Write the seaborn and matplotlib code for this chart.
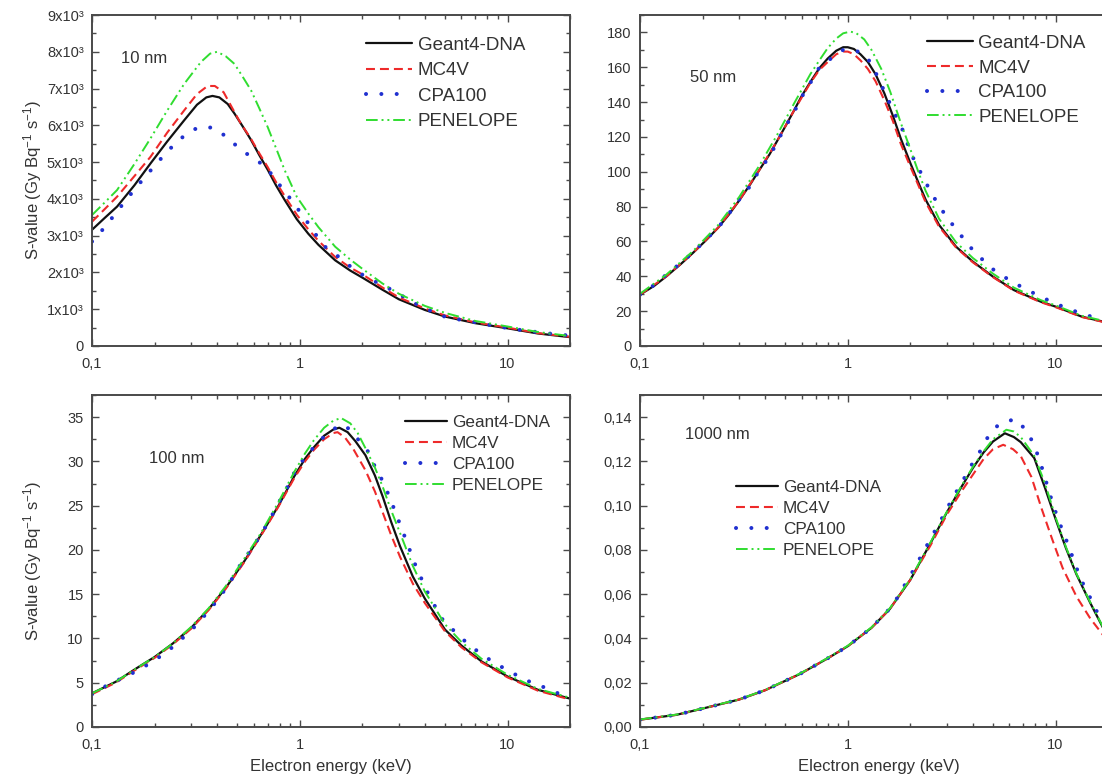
import matplotlib
matplotlib.use("Agg")
import pandas as pd
import matplotlib.pyplot as plt
import seaborn as sns
from matplotlib.ticker import FuncFormatter, MultipleLocator, LogLocator, NullFormatter

# ---------------- 10 nm ----------------
e10_g4 = [0.1, 0.115, 0.132, 0.16, 0.191, 0.23, 0.278, 0.32, 0.355, 0.38, 0.41, 0.45, 0.485, 0.53, 0.583,
          0.64, 0.703, 0.77, 0.846, 0.967, 1.1, 1.23, 1.48, 1.75, 2.0, 2.5, 3.0, 4.0, 5.0, 7.0, 10, 14, 20]
s10_g4 = [3160, 3480, 3790, 4370, 4960, 5560, 6140, 6560, 6760, 6800, 6760, 6580, 6320, 5980, 5600,
          5180, 4780, 4360, 3970, 3450, 3050, 2750, 2330, 2050, 1860, 1530, 1270, 980, 800, 620, 480, 340, 240]
e10_mc = [0.1, 0.115, 0.132, 0.16, 0.191, 0.23, 0.278, 0.32, 0.36, 0.39, 0.43, 0.47, 0.52, 0.58, 0.64,
          0.70, 0.77, 0.85, 0.97, 1.1, 1.23, 1.48, 1.75, 2.0, 2.5, 3.0, 4.0, 5.0, 7.0, 10, 14, 20]
s10_mc = [3380, 3720, 4060, 4620, 5140, 5800, 6410, 6850, 7070, 7070, 6900, 6500, 6050, 5650, 5230,
          4870, 4450, 4060, 3560, 3170, 2860, 2420, 2130, 1950, 1590, 1320, 1020, 830, 640, 500, 350, 250]
e10_cpa = [0.1, 0.114, 0.128, 0.144, 0.162, 0.182, 0.206, 0.233, 0.27, 0.322, 0.381, 0.444, 0.512, 0.588,
           0.69, 0.76, 0.857, 0.96, 1.07, 1.19, 1.33, 1.56, 1.78, 2.1, 2.47, 2.94, 3.4, 4.1, 4.9, 5.85,
           6.9, 8.6, 10.4, 12.5, 15.2, 20]
s10_cpa = [2840, 3200, 3560, 3930, 4290, 4630, 4980, 5320, 5660, 5940, 5940, 5690, 5370, 5130,
           4870, 4530, 4170, 3790, 3430, 3040, 2690, 2400, 2130, 1860, 1670, 1450, 1220, 1000, 810, 720,
           650, 550, 470, 410, 350, 280]
e10_pen = [0.1, 0.115, 0.132, 0.16, 0.191, 0.23, 0.278, 0.334, 0.37, 0.40, 0.44, 0.485, 0.53, 0.583, 0.64,
           0.70, 0.77, 0.846, 0.967, 1.1, 1.23, 1.48, 1.75, 2.0, 2.5, 3.0, 4.0, 5.0, 7.0, 10, 14, 20]
s10_pen = [3560, 3900, 4240, 4950, 5640, 6400, 7130, 7720, 7950, 8000, 7880, 7670, 7330, 6950, 6450,
           5960, 5370, 4780, 4060, 3600, 3230, 2700, 2350, 2100, 1700, 1420, 1090, 900, 680, 530, 380, 270]

# ---------------- 50 nm ----------------
e50_g4 = [0.1, 0.117, 0.134, 0.157, 0.18, 0.207, 0.238, 0.268, 0.3, 0.34, 0.375, 0.42, 0.456, 0.5, 0.55,
          0.6, 0.66, 0.73, 0.8, 0.88, 0.95, 1.0, 1.07, 1.15, 1.25, 1.36, 1.5, 1.65, 1.8, 2.0, 2.2, 2.37,
          2.75, 3.32, 4.0, 5.0, 6.3, 8.5, 10, 13.4, 20]
s50_g4 = [29.5, 34.5, 40, 47, 53.5, 60.5, 68, 75.5, 83.5, 93, 101, 110, 117.5, 126, 135,
          143.5, 151.5, 159.5, 165, 169.5, 171.5, 171.5, 170.5, 167.5, 163, 156, 145, 132, 119, 105, 93, 84,
          69.5, 57, 48.4, 39.8, 32.1, 25.4, 22.6, 16.8, 12]
e50_mc = [0.1, 0.134, 0.18, 0.238, 0.3, 0.375, 0.456, 0.55, 0.66, 0.73, 0.8, 0.88, 0.95, 1.0, 1.07,
          1.15, 1.25, 1.36, 1.5, 1.65, 1.8, 2.0, 2.37, 2.75, 3.32, 4.0, 5.0, 6.3, 8.5, 10, 13.4, 20]
s50_mc = [29.5, 40, 53.5, 68, 83.5, 101, 117.5, 135, 151, 158.5, 163, 167.5, 169, 169, 167.5,
          164, 159, 152, 141, 129, 116, 103, 82.5, 68.5, 56.5, 48, 39.5, 31.8, 25.1, 22.3, 16.6, 11.8]
e50_cpa = [0.1, 0.117, 0.134, 0.157, 0.18, 0.207, 0.238, 0.268, 0.3, 0.34, 0.375, 0.42, 0.456, 0.5, 0.55,
           0.6, 0.66, 0.73, 0.85, 0.95, 1.02, 1.19, 1.3, 1.45, 1.67, 1.81, 1.94, 2.08, 2.28, 2.48, 2.72,
           3.04, 3.4, 3.83, 4.35, 5.0, 5.9, 7.05, 8.35, 9.9, 11.9, 14.3, 17.1, 20]
s50_cpa = [29.5, 35, 41, 47.6, 53.7, 61, 68, 76, 84, 92, 101, 108.6, 117, 125.7, 134,
           143, 151, 160, 166, 170, 170.5, 168, 162, 150, 134, 126, 116, 107, 98, 89.5, 81.3,
           72.9, 65.6, 57.5, 50.7, 44, 38.3, 33.1, 28.7, 24.5, 20.7, 17.4, 15.3, 13.5]
e50_pen = [0.1, 0.134, 0.18, 0.238, 0.3, 0.375, 0.456, 0.55, 0.66, 0.73, 0.8, 0.88, 0.95, 1.03, 1.1,
           1.2, 1.3, 1.45, 1.6, 1.8, 2.0, 2.2, 2.37, 2.75, 3.32, 4.0, 5.0, 6.3, 8.5, 10, 13.4, 20]
s50_pen = [30, 41, 54.5, 69.5, 85.5, 103.5, 121, 139, 156, 164, 171, 176.5, 179.5, 180.5, 179.5,
           176, 170, 159, 146, 128, 113, 99, 89, 73, 59.5, 50.5, 41.5, 33.5, 26.3, 23.3, 17.3, 12.5]

# ---------------- 100 nm ----------------
e100_g4 = [0.1, 0.13, 0.163, 0.2, 0.244, 0.3, 0.364, 0.44, 0.54, 0.65, 0.79, 0.94, 1.06, 1.17, 1.31, 1.45,
           1.55, 1.7, 1.85, 2.07, 2.3, 2.51, 2.75, 3.04, 3.5, 4.0, 5.0, 6.0, 7.5, 10, 14, 20]
s100_g4 = [3.8, 5.1, 6.6, 7.9, 9.4, 11.2, 13.3, 15.7, 18.7, 21.7, 25.0, 28.3, 30.3, 31.6, 32.9, 33.6,
           33.8, 33.3, 32.3, 30.7, 28.4, 26.0, 23.2, 20.4, 17.0, 14.5, 11.0, 9.2, 7.4, 5.7, 4.2, 3.2]
e100_mc = [0.1, 0.13, 0.163, 0.2, 0.244, 0.3, 0.364, 0.44, 0.54, 0.65, 0.79, 0.94, 1.06, 1.17, 1.31, 1.45,
           1.52, 1.65, 1.8, 2.07, 2.3, 2.51, 2.75, 3.04, 3.5, 4.0, 5.0, 6.0, 7.5, 10, 14, 20]
s100_mc = [3.7, 5.0, 6.5, 7.8, 9.3, 11.1, 13.2, 15.6, 18.6, 21.6, 24.9, 28.1, 30.0, 31.3, 32.5, 33.2,
           33.3, 32.7, 31.5, 29.0, 26.6, 24.2, 21.7, 19.2, 16.2, 14.0, 10.8, 9.0, 7.3, 5.6, 4.1, 3.1]
e100_cpa = [0.1, 0.114, 0.139, 0.167, 0.196, 0.23, 0.26, 0.3, 0.34, 0.385, 0.43, 0.48, 0.52, 0.59, 0.66,
            0.72, 0.79, 0.86, 0.94, 1.06, 1.17, 1.31, 1.45, 1.58, 1.78, 1.92, 2.11, 2.28, 2.49, 2.69, 2.87,
            3.2, 3.6, 4.1, 4.8, 5.5, 6.3, 7.4, 8.7, 10.2, 12.2, 14.6, 17, 20]
s100_cpa = [3.7, 4.5, 5.5, 6.4, 7.4, 8.5, 9.6, 10.9, 12.3, 13.8, 15.3, 17, 18.4, 20.2, 22.0,
            23.5, 25.3, 26.8, 28.7, 30.5, 31.6, 32.8, 33.6, 34.2, 33.5, 32.4, 31.3, 29.6, 27.9, 26.1, 24.4,
            21.5, 18.3, 15.3, 12.3, 10.9, 9.6, 8.3, 7.2, 6.3, 5.3, 4.6, 3.9, 3.4]
e100_pen = [0.1, 0.13, 0.163, 0.2, 0.244, 0.3, 0.364, 0.44, 0.54, 0.65, 0.79, 0.94, 1.06, 1.17, 1.31, 1.45,
            1.58, 1.75, 1.9, 2.07, 2.3, 2.51, 2.75, 3.04, 3.5, 4.0, 5.0, 6.0, 7.5, 10, 14, 20]
s100_pen = [3.8, 5.1, 6.6, 7.9, 9.4, 11.3, 13.4, 15.9, 19.0, 21.9, 25.4, 28.8, 30.9, 32.4, 33.8, 34.6,
            34.9, 34.3, 33.2, 31.5, 29.3, 27.1, 24.5, 21.9, 18.2, 15.3, 11.6, 9.6, 7.7, 5.9, 4.3, 3.3]

# ---------------- 1000 nm ----------------
e1000_g4 = [0.1, 0.15, 0.2, 0.3, 0.4, 0.59, 0.8, 1.0, 1.3, 1.59, 2.0, 2.5, 3.0, 3.5, 4.0, 4.5, 5.0, 5.7,
            6.3, 6.8, 7.9, 8.9, 10, 11.2, 12.6, 14.7, 17.1, 20]
s1000_g4 = [0.0033, 0.0055, 0.0083, 0.0124, 0.0166, 0.0240, 0.0310, 0.0365, 0.0448, 0.0532, 0.0665, 0.083,
            0.097, 0.108, 0.117, 0.124, 0.129, 0.1327, 0.131, 0.1287, 0.1215, 0.108, 0.094, 0.081, 0.069,
            0.056, 0.044, 0.035]
e1000_mc = [0.1, 0.15, 0.2, 0.3, 0.4, 0.59, 0.8, 1.0, 1.3, 1.59, 2.0, 2.5, 3.0, 3.5, 4.0, 4.5, 5.0, 5.6,
            6.24, 6.8, 7.65, 8.58, 9.62, 10.8, 12.6, 14.7, 17.1, 20]
s1000_mc = [0.0033, 0.0055, 0.0083, 0.0124, 0.0166, 0.0240, 0.0310, 0.0365, 0.0448, 0.0532, 0.0665, 0.082,
            0.096, 0.106, 0.114, 0.121, 0.1255, 0.1275, 0.1255, 0.1224, 0.113, 0.0985, 0.085, 0.072,
            0.059, 0.049, 0.041, 0.034]
e1000_cpa = [0.1, 0.15, 0.2, 0.3, 0.4, 0.59, 0.8, 1.0, 1.3, 1.65, 1.81, 2.0, 2.2, 2.42, 2.66, 2.93, 3.2,
             3.52, 3.86, 4.3, 4.73, 5.31, 6.38, 7.3, 7.94, 8.48, 8.98, 9.5, 10.08, 10.8, 11.6, 12.35,
             13.3, 14.5, 15.85, 17.4, 20]
s1000_cpa = [0.0033, 0.0055, 0.0083, 0.0124, 0.0166, 0.0240, 0.031, 0.0365, 0.0448, 0.055, 0.0616, 0.0683,
             0.0754, 0.0825, 0.0895, 0.0966, 0.1036, 0.1099, 0.117, 0.124, 0.1311, 0.1366, 0.1392, 0.1337,
             0.1267, 0.119, 0.1112, 0.1036, 0.0962, 0.0887, 0.0814, 0.0741, 0.0663, 0.0594, 0.0519,
             0.0448, 0.037]
e1000_pen = [0.1, 0.15, 0.2, 0.3, 0.4, 0.59, 0.8, 1.0, 1.3, 1.59, 2.0, 2.5, 3.0, 3.5, 4.0, 4.5, 5.0, 5.8,
             6.3, 6.8, 7.9, 8.9, 10, 11.2, 12.6, 14.7, 17.1, 20]
s1000_pen = [0.0034, 0.0056, 0.0084, 0.0125, 0.0167, 0.0242, 0.0312, 0.0367, 0.0450, 0.0535, 0.0668, 0.0834,
             0.0973, 0.1084, 0.1175, 0.1245, 0.130, 0.1343, 0.1335, 0.131, 0.1225, 0.110, 0.0948, 0.0815,
             0.0693, 0.0563, 0.0443, 0.0352]

codes = ["Geant4-DNA", "MC4V", "CPA100", "PENELOPE"]
colors = ["#111111", "#ee2a2a", "#2030d0", "#30dd30"]
styles = ["-", (0, (4.3, 2.4)), (0, (0.01, 3.8)), (0, (6, 2, 1, 2, 1, 2))]
widths = [1.6, 1.5, 2.9, 1.4]

sns.set_theme(style="ticks")
plt.rcParams["font.family"] = ["Liberation Sans", "DejaVu Sans"]
plt.rcParams["mathtext.fontset"] = "custom"
plt.rcParams["mathtext.rm"] = "Liberation Sans"
plt.rcParams["mathtext.it"] = "Liberation Sans:italic"
txt = "#333333"
axcol = "#4a4a4a"

fig = plt.figure(figsize=(11.02, 7.78), dpi=100)

panels = [
    dict(pos=[0.0835, 0.5553, 0.4338, 0.4254], tag="10 nm", tagxy=(0.06, 0.87),
         data=[(e10_g4, s10_g4), (e10_mc, s10_mc), (e10_cpa, s10_cpa), (e10_pen, s10_pen)],
         ylim=9000, major=1000, minor=500, leg=(0.573, 0.935), lfs=13.5, lsp=0.45,
         yfmt=lambda v, p: "0" if v == 0 else f"{int(round(v / 1000))}x10\u00b3"),
    dict(pos=[0.5808, 0.5553, 0.4338, 0.4254], tag="50 nm", tagxy=(0.105, 0.81),
         data=[(e50_g4, s50_g4), (e50_mc, s50_mc), (e50_cpa, s50_cpa), (e50_pen, s50_pen)],
         ylim=190, major=20, minor=10, leg=(0.6, 0.94), lfs=13.5, lsp=0.4,
         yfmt=lambda v, p: f"{v:.0f}"),
    dict(pos=[0.0835, 0.0656, 0.4338, 0.4267], tag="100 nm", tagxy=(0.12, 0.81),
         data=[(e100_g4, s100_g4), (e100_mc, s100_mc), (e100_cpa, s100_cpa), (e100_pen, s100_pen)],
         ylim=37.5, major=5, minor=2.5, leg=(0.655, 0.94), lfs=12.3, lsp=0.35,
         yfmt=lambda v, p: f"{v:.0f}"),
    dict(pos=[0.5808, 0.0656, 0.4338, 0.4267], tag="1000 nm", tagxy=(0.095, 0.88),
         data=[(e1000_g4, s1000_g4), (e1000_mc, s1000_mc), (e1000_cpa, s1000_cpa), (e1000_pen, s1000_pen)],
         ylim=0.15, major=0.02, minor=0.01, leg=(0.2, 0.745), lfs=12.3, lsp=0.35,
         yfmt=lambda v, p: f"{v:.2f}".replace(".", ",")),
]

for i, p in enumerate(panels):
    ax = fig.add_axes(p["pos"])
    for (e, s), code, c, ls, lw in zip(p["data"], codes, colors, styles, widths):
        df = pd.DataFrame({"energy": e, "svalue": s})
        line_kw = dict(dash_capstyle="round") if code == "CPA100" else {}
        sns.lineplot(data=df, x="energy", y="svalue", ax=ax, color=c, linestyle=ls,
                     linewidth=lw, label=code, **line_kw)
    ax.set_xscale("log")
    ax.set_xlim(0.1, 20)
    ax.set_ylim(0, p["ylim"])
    ax.xaxis.set_major_locator(LogLocator(base=10, numticks=10))
    ax.xaxis.set_minor_locator(LogLocator(base=10, subs=range(2, 10), numticks=20))
    ax.xaxis.set_minor_formatter(NullFormatter())
    ax.xaxis.set_major_formatter(FuncFormatter(lambda v, pp: f"{v:g}".replace(".", ",")))
    ax.yaxis.set_major_locator(MultipleLocator(p["major"]))
    ax.yaxis.set_minor_locator(MultipleLocator(p["minor"]))
    ax.yaxis.set_major_formatter(FuncFormatter(p["yfmt"]))
    ax.tick_params(which="both", direction="in", top=True, right=True, colors=axcol,
                   labelcolor=txt, labelsize=10.5, width=1.0)
    ax.tick_params(which="major", length=5)
    ax.tick_params(which="minor", length=3)
    ax.tick_params(axis="x", which="major", pad=8)
    ax.tick_params(axis="y", which="major", pad=6)
    for sp in ax.spines.values():
        sp.set_color(axcol)
        sp.set_linewidth(1.4)
    ax.text(p["tagxy"][0], p["tagxy"][1], p["tag"], transform=ax.transAxes,
            fontsize=12, color=txt, ha="left", va="center")
    ax.legend(loc="upper left", bbox_to_anchor=p["leg"], frameon=False, fontsize=p["lfs"],
              handlelength=2.45, handletextpad=0.3, labelspacing=p["lsp"], borderpad=0,
              borderaxespad=0, labelcolor=txt)
    if i % 2 == 0:
        ax.set_ylabel(r"S-value (Gy Bq$^{-1}$ s$^{-1}$)", fontsize=12, color=txt)
        ax.yaxis.set_label_coords(-0.1, 0.5)
    else:
        ax.set_ylabel("")
    if i >= 2:
        ax.set_xlabel("Electron energy (keV)", fontsize=12, color=txt)
        ax.xaxis.set_label_coords(0.5, -0.095)
    else:
        ax.set_xlabel("")

fig.savefig("out.png", dpi=100)
